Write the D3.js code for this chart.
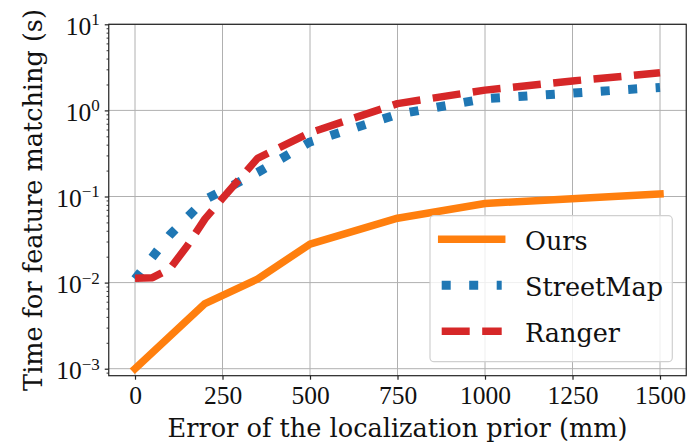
<!DOCTYPE html>
<html>
<head>
<meta charset="utf-8">
<script src="https://cdn.jsdelivr.net/npm/d3@7"></script>
<style>
  html, body { margin: 0; padding: 0; background: #fff; }
  svg { display: block; }
</style>
</head>
<body>
<svg id="chart" width="688" height="443"></svg>
<script>
// Matching time versus localization prior error (log scale)
const oursX = [0, 200, 350, 500, 750, 1000, 1500];
const oursY = [0.001, 0.0057, 0.011, 0.028, 0.056, 0.083, 0.107];

const streetX = [0, 100, 200, 350, 500, 750, 1000, 1500];
const streetY = [0.011, 0.036, 0.092, 0.19, 0.43, 0.9, 1.37, 1.85];

const rangerX = [0, 50, 100, 150, 200, 250, 350, 500, 750, 1000, 1250, 1500];
const rangerY = [0.0112, 0.0114, 0.0145, 0.027, 0.055, 0.095, 0.277, 0.55, 1.2, 1.72, 2.2, 2.73];

const seriesNames = ["Ours", "StreetMap", "Ranger"];
const xTickValues = [0, 250, 500, 750, 1000, 1250, 1500];
const yTickExponents = [-3, -2, -1, 0, 1];
const xTitle = "Error of the localization prior (mm)";
const yTitle = "Time for feature matching (s)";

const W = 688, H = 443;
const plot = { left: 108.75, right: 686.25, top: 24.3, bottom: 375.7 };

const svg = d3.select("#chart");

const x = d3.scaleLinear().domain([-75, 1575]).range([plot.left, plot.right]);
const y = d3.scaleLog().domain([Math.pow(10, -3.0813), 10]).range([plot.bottom, plot.top]);

const styles = [
  { color: "#ff7f0e", width: 7.5, dash: null, cap: "square" },
  { color: "#1f77b4", width: 9, dash: "9,18.5", cap: "butt" },
  { color: "#d62728", width: 7.5, dash: "28,12.5", cap: "butt" }
];
const seriesData = [
  d3.zip(oursX, oursY),
  d3.zip(streetX, streetY),
  d3.zip(rangerX, rangerY)
];

// grid
const majorY = yTickExponents.map(e => Math.pow(10, e));
const grid = svg.append("g");
grid.selectAll("line.gx").data(xTickValues).join("line")
  .attr("x1", d => x(d)).attr("x2", d => x(d))
  .attr("y1", plot.top).attr("y2", plot.bottom)
  .attr("stroke", "#b0b0b0").attr("stroke-width", 1);
grid.selectAll("line.gy").data(majorY).join("line")
  .attr("x1", plot.left).attr("x2", plot.right)
  .attr("y1", d => y(d)).attr("y2", d => y(d))
  .attr("stroke", "#b0b0b0").attr("stroke-width", 1);

// series lines
const line = d3.line().x(d => x(d[0])).y(d => y(d[1]));
seriesData.forEach((data, i) => {
  const s = styles[i];
  svg.append("path")
    .datum(data)
    .attr("d", line)
    .attr("fill", "none")
    .attr("stroke", s.color)
    .attr("stroke-width", s.width)
    .attr("stroke-linecap", s.cap)
    .attr("stroke-linejoin", "round")
    .attr("stroke-dasharray", s.dash);
});

// x axis
const xAxis = svg.append("g")
  .attr("transform", `translate(0,${plot.bottom})`)
  .call(d3.axisBottom(x).tickValues(xTickValues).tickSize(4).tickFormat(d3.format("d")));
xAxis.select(".domain").remove();
xAxis.selectAll(".tick line").attr("stroke", "#222").attr("stroke-width", 1.2);
xAxis.selectAll(".tick text")
  .attr("y", 28.6).attr("dy", 0)
  .attr("fill", "#111")
  .style("font-family", "'Liberation Serif', serif")
  .style("font-size", "25.5px");

// y axis: minor ticks
const minorY = [];
for (let e = -4; e <= 0; e++) {
  for (let m = 2; m <= 9; m++) {
    const v = m * Math.pow(10, e);
    if (v >= y.domain()[0] && v <= y.domain()[1]) minorY.push(v);
  }
}
const yMinor = svg.append("g")
  .attr("transform", `translate(${plot.left},0)`)
  .call(d3.axisLeft(y).tickValues(minorY).tickSize(2.2).tickFormat(""));
yMinor.select(".domain").remove();
yMinor.selectAll(".tick line").attr("stroke", "#222").attr("stroke-width", 0.9);

// y axis: major ticks with power-of-ten labels
const yAxis = svg.append("g")
  .attr("transform", `translate(${plot.left},0)`)
  .call(d3.axisLeft(y).tickValues(majorY).tickSize(4).tickFormat(""));
yAxis.select(".domain").remove();
yAxis.selectAll(".tick line").attr("stroke", "#222").attr("stroke-width", 1.2);
yAxis.selectAll(".tick").each(function (d) {
  const exp = Math.round(Math.log10(d));
  const t = d3.select(this).append("text")
    .attr("x", -9).attr("y", 9.7)
    .attr("text-anchor", "end")
    .attr("fill", "#111")
    .style("font-family", "'Liberation Serif', serif")
    .style("font-size", "25.5px");
  t.append("tspan").text("10");
  t.append("tspan")
    .attr("dy", -9.3)
    .style("font-size", "17px")
    .text(exp < 0 ? "\u2212" + Math.abs(exp) : String(exp));
});

// frame
svg.append("rect")
  .attr("x", plot.left).attr("y", plot.top)
  .attr("width", plot.right - plot.left).attr("height", plot.bottom - plot.top)
  .attr("fill", "none").attr("stroke", "#222").attr("stroke-width", 1.2);

// axis titles
svg.append("text")
  .attr("x", (plot.left + plot.right) / 2).attr("y", 436.7)
  .attr("text-anchor", "middle").attr("fill", "#111")
  .style("font-family", "'DejaVu Serif', serif").style("font-size", "25.6px")
  .text(xTitle);
svg.append("text")
  .attr("transform", `translate(41.5,${(plot.top + plot.bottom) / 2}) rotate(-90)`)
  .attr("text-anchor", "middle").attr("fill", "#111")
  .style("font-family", "'DejaVu Serif', serif").style("font-size", "25.5px")
  .text(yTitle);

// legend
const legend = svg.append("g");
legend.append("rect")
  .attr("x", 430).attr("y", 215.7).attr("width", 242.3).attr("height", 146)
  .attr("rx", 4).attr("ry", 4)
  .attr("fill", "#fff").attr("fill-opacity", 0.8)
  .attr("stroke", "#d0d0d0").attr("stroke-width", 1.2);
const rowY = [239.2, 285.2, 331.2];
seriesNames.forEach((name, i) => {
  const s = styles[i];
  legend.append("line")
    .attr("x1", 441.7).attr("x2", 501.7)
    .attr("y1", rowY[i]).attr("y2", rowY[i])
    .attr("stroke", s.color).attr("stroke-width", s.width)
    .attr("stroke-linecap", s.cap)
    .attr("stroke-dasharray", s.dash);
  legend.append("text")
    .attr("x", 525).attr("y", rowY[i] + 10.5)
    .attr("fill", "#111")
    .style("font-family", "'DejaVu Serif', serif").style("font-size", "25.5px")
    .text(name);
});
</script>
</body>
</html>
